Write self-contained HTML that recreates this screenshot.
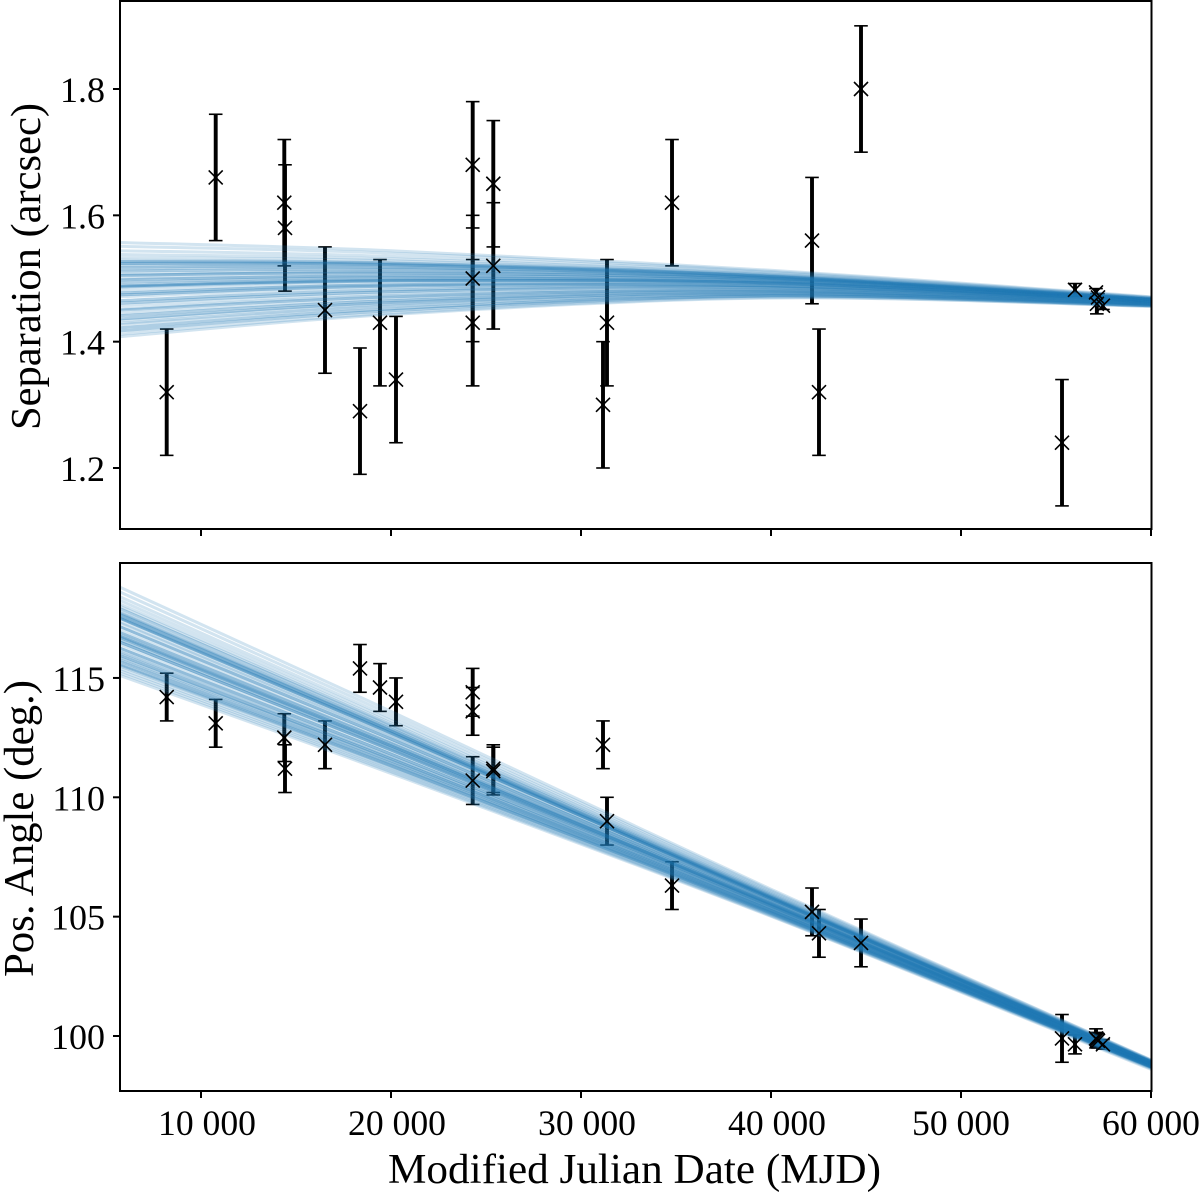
<!DOCTYPE html>
<html lang="en">
<head>
<meta charset="utf-8">
<title>Separation and position angle vs MJD</title>
<style>
html,body{margin:0;padding:0;background:#fff;}
svg{display:block;}
text{font-family:"Liberation Serif",serif;fill:#000;}
</style>
</head>
<body>
<svg id="chart" xmlns="http://www.w3.org/2000/svg" width="1200" height="1193" viewBox="0 0 1200 1193">
<defs>
<clipPath id="clip-top"><rect x="120" y="1" width="1031" height="528"/></clipPath>
<clipPath id="clip-bottom"><rect x="120" y="563" width="1031" height="528"/></clipPath>
</defs>
</svg>
<script>
// Observations
const mjd = [8195,10774,14384,14421,16526,18368,19421,20263,24300,24300,24300,25384,25384,31158,31368,34790,42158,42526,44737,55316,56000,57105,57150,57210,57470];
const sepVals = [1.32,1.66,1.62,1.58,1.45,1.29,1.43,1.34,1.68,1.50,1.43,1.65,1.52,1.30,1.43,1.62,1.56,1.32,1.80,1.24,1.482,1.478,1.46,1.470,1.457];
const sepErrs = [0.1,0.1,0.1,0.1,0.1,0.1,0.1,0.1,0.1,0.1,0.1,0.1,0.1,0.1,0.1,0.1,0.1,0.1,0.1,0.1,0.01,0.006,0.016,0.006,0.006];
const paVals = [114.2,113.1,112.5,111.2,112.2,115.4,114.6,114.0,114.4,113.6,110.7,111.2,111.1,112.2,109.0,106.3,105.2,104.3,103.9,99.9,99.65,99.9,99.85,99.8,99.65];
const paErrs = [1,1,1,1,1,1,1,1,1,1,1,1,1,1,1,1,1,1,1,1,0.4,0.4,0.3,0.3,0.2];

// Model curves sampled at these epochs
const modelMjd = [5737,20000,40000,60000];
const sepAt0 = [1.557,1.551,1.544,1.538,1.533,1.529,1.527,1.527,1.524,1.524,
1.524,1.521,1.518,1.518,1.515,1.512,1.512,1.508,1.505,1.505,
1.505,1.500,1.498,1.498,1.494,1.494,1.490,1.488,1.488,1.488,
1.486,1.486,1.481,1.477,1.477,1.474,1.474,1.471,1.465,1.465,
1.461,1.461,1.457,1.452,1.450,1.450,1.445,1.441,1.441,1.436,
1.436,1.433,1.429,1.427,1.422,1.422,1.417,1.417,1.412,1.408];
const sepAt1 = [1.544,1.540,1.535,1.531,1.528,1.525,1.524,1.524,1.522,1.522,
1.522,1.520,1.518,1.518,1.516,1.514,1.514,1.511,1.509,1.509,
1.509,1.505,1.504,1.504,1.501,1.501,1.499,1.497,1.497,1.497,
1.496,1.496,1.492,1.490,1.490,1.488,1.488,1.486,1.482,1.482,
1.479,1.479,1.476,1.473,1.471,1.471,1.468,1.465,1.465,1.462,
1.462,1.460,1.457,1.456,1.452,1.452,1.449,1.449,1.445,1.443];
const sepAt2 = [1.513,1.511,1.509,1.507,1.506,1.505,1.504,1.504,1.503,1.503,
1.503,1.502,1.501,1.501,1.501,1.500,1.500,1.499,1.498,1.498,
1.498,1.496,1.496,1.496,1.494,1.494,1.493,1.493,1.493,1.493,
1.492,1.492,1.491,1.489,1.489,1.488,1.488,1.488,1.486,1.486,
1.485,1.485,1.483,1.482,1.481,1.481,1.480,1.479,1.479,1.477,
1.477,1.476,1.475,1.475,1.473,1.473,1.472,1.472,1.470,1.469];
const sepAt3 = [1.471,1.470,1.470,1.469,1.469,1.468,1.468,1.468,1.467,1.467,
1.467,1.467,1.467,1.467,1.467,1.466,1.466,1.466,1.466,1.466,
1.466,1.465,1.465,1.465,1.465,1.465,1.464,1.464,1.464,1.464,
1.464,1.464,1.463,1.463,1.463,1.463,1.463,1.462,1.462,1.462,
1.461,1.461,1.461,1.461,1.460,1.460,1.460,1.459,1.459,1.459,
1.459,1.459,1.458,1.458,1.457,1.457,1.457,1.457,1.456,1.456];

const paAt0 = [118.8,118.6,118.4,118.25,118.1,118.0,117.9,117.9,117.75,117.75,
117.6,117.55,117.5,117.5,117.5,117.5,117.35,117.3,117.15,117.15,
117.15,117.0,116.9,116.9,116.75,116.75,116.75,116.7,116.7,116.5,
116.5,116.5,116.4,116.25,116.25,116.25,116.1,116.1,116.0,115.95,
115.95,115.85,115.85,115.75,115.7,115.7,115.6,115.55,115.55,115.5,
116.6,116.6,116.85,117.65,117.65,117.7,115.4,115.3,115.2,115.1];
const paAt1 = [113.60,113.46,113.32,113.21,113.11,113.04,112.97,112.97,112.86,112.86,
112.76,112.72,112.69,112.69,112.69,112.69,112.58,112.55,112.44,112.44,
112.44,112.34,112.27,112.27,112.16,112.16,112.16,112.12,112.12,111.98,
111.98,111.98,111.91,111.81,111.81,111.81,111.70,111.70,111.63,111.60,
111.60,111.53,111.53,111.46,111.42,111.42,111.35,111.32,111.32,111.28,
112.05,112.05,112.23,112.79,112.79,112.83,111.21,111.14,111.07,111.00];
const paAt2 = [106.15,106.09,106.03,105.98,105.94,105.91,105.87,105.87,105.83,105.83,
105.78,105.77,105.75,105.75,105.75,105.75,105.70,105.69,105.64,105.64,
105.64,105.60,105.56,105.56,105.52,105.52,105.52,105.50,105.50,105.44,
105.44,105.44,105.41,105.36,105.36,105.36,105.32,105.32,105.29,105.27,
105.27,105.24,105.24,105.21,105.19,105.19,105.16,105.15,105.15,105.13,
105.47,105.47,105.55,105.80,105.80,105.81,105.10,105.07,105.04,105.01];
const paAt3 = [99.00,98.99,98.97,98.96,98.95,98.94,98.93,98.93,98.92,98.92,
98.90,98.90,98.89,98.89,98.89,98.89,98.88,98.87,98.86,98.86,
98.86,98.84,98.83,98.83,98.82,98.82,98.82,98.81,98.81,98.79,
98.79,98.79,98.78,98.77,98.77,98.77,98.75,98.75,98.74,98.74,
98.74,98.73,98.73,98.72,98.71,98.71,98.70,98.70,98.70,98.69,
98.80,98.80,98.83,98.91,98.91,98.91,98.68,98.66,98.64,98.60];

// Axis ticks
const xTicks = [10000,20000,30000,40000,50000,60000];
const xTickLabels = ["10 000","20 000","30 000","40 000","50 000","60 000"];
const sepTicks = [1.2,1.4,1.6,1.8];
const sepTickLabels = ["1.2","1.4","1.6","1.8"];
const paTicks = [100,105,110,115];
const paTickLabels = ["100","105","110","115"];

const SVGNS = "http://www.w3.org/2000/svg";
const root = document.getElementById("chart");
const xScale = function (m) { return 201 + (m - 10000) * 0.019; };
const ySep = function (v) { return 468 - (v - 1.2) * 631.67; };
const yPa = function (v) { return 1036 - (v - 100) * 23.87; };

function mk(parent, tag) {
  const el = document.createElementNS(SVGNS, tag);
  parent.appendChild(el);
  return el;
}
function seg(parent, x1, y1, x2, y2, w, color) {
  const l = mk(parent, "line");
  l.setAttribute("x1", x1);
  l.setAttribute("y1", y1);
  l.setAttribute("x2", x2);
  l.setAttribute("y2", y2);
  l.setAttribute("stroke", color || "#000");
  l.setAttribute("stroke-width", w);
  return l;
}
function curvePath(px) {
  let d = "M" + px[0][0] + " " + px[0][1];
  for (let i = 0; i < px.length - 1; i++) {
    const p0 = px[Math.max(i - 1, 0)], p1 = px[i], p2 = px[i + 1], p3 = px[Math.min(i + 2, px.length - 1)];
    d += " C" + (p1[0] + (p2[0] - p0[0]) / 6) + " " + (p1[1] + (p2[1] - p0[1]) / 6) + " " +
         (p2[0] - (p3[0] - p1[0]) / 6) + " " + (p2[1] - (p3[1] - p1[1]) / 6) + " " + p2[0] + " " + p2[1];
  }
  return d;
}

function drawPanel(cfg) {
  const g = mk(root, "g");
  
  

  // error bars beneath the model curves
  const barsG = mk(g, "g");
  
  
  mjd.forEach(function (m, i) {
    const x = xScale(m);
    const yHi = cfg.y(cfg.vals[i] + cfg.errs[i]);
    const yLo = cfg.y(cfg.vals[i] - cfg.errs[i]);
    const bar = seg(barsG, x, yHi, x, yLo, 3.9);
    
    
    const capT = seg(barsG, x - 6.8, yHi, x + 6.8, yHi, 1.6);
    
    
    const capB = seg(barsG, x - 6.8, yLo, x + 6.8, yLo, 1.6);
    
    
  });

  // model curves
  const curvesG = mk(g, "g");
  
  
  curvesG.setAttribute("clip-path", "url(#" + cfg.clip + ")");
  cfg.nodes[0].forEach(function (_, k) {
    const px = modelMjd.map(function (m, n) { return [xScale(m), cfg.y(cfg.nodes[n][k])]; });
    const p = mk(curvesG, "path");
    
    
    p.setAttribute("d", curvePath(px));
    p.setAttribute("fill", "none");
    p.setAttribute("stroke", "#1f77b4");
    p.setAttribute("stroke-width", "3");
    p.setAttribute("stroke-opacity", "0.2");
  });

  // x markers
  const marksG = mk(g, "g");
  
  
  mjd.forEach(function (m, i) {
    const x = xScale(m), y = cfg.y(cfg.vals[i]), r = 7;
    const p = mk(marksG, "path");
    
    
    p.setAttribute("d", "M" + (x - r) + " " + (y - r) + "L" + (x + r) + " " + (y + r) + "M" + (x - r) + " " + (y + r) + "L" + (x + r) + " " + (y - r));
    p.setAttribute("fill", "none");
    p.setAttribute("stroke", "#000");
    p.setAttribute("stroke-width", "1.6");
  });

  // y ticks and labels
  cfg.ticks.forEach(function (t, i) {
    const y = cfg.y(t);
    const tick = seg(g, 113, y, 120, y, 2);
    
    
    const lab = mk(g, "text");
    
    
    lab.setAttribute("x", 105);
    lab.setAttribute("y", y + 13);
    lab.setAttribute("text-anchor", "end");
    lab.setAttribute("font-size", "36");
    lab.textContent = cfg.tickLabels[i];
  });

  // x ticks
  xTicks.forEach(function (t, i) {
    const x = xScale(t);
    const tick = seg(g, x, cfg.bottom, x, cfg.bottom + 7, 2);
    
    
    if (cfg.showXLabels) {
      const lab = mk(g, "text");
      
      
      lab.setAttribute("x", x + (t < 45000 ? 6 : 0));
      lab.setAttribute("y", 1135);
      lab.setAttribute("text-anchor", "middle");
      lab.setAttribute("font-size", "36");
      lab.setAttribute("textLength", "98");
      lab.setAttribute("lengthAdjust", "spacingAndGlyphs");
      lab.textContent = xTickLabels[i];
    }
  });

  // frame
  const frame = mk(g, "rect");
  
  
  frame.setAttribute("x", 120);
  frame.setAttribute("y", cfg.top);
  frame.setAttribute("width", 1031.5);
  frame.setAttribute("height", cfg.bottom - cfg.top);
  frame.setAttribute("fill", "none");
  frame.setAttribute("stroke", "#000");
  frame.setAttribute("stroke-width", "2");

  // y title
  const title = mk(g, "text");
  
  
  title.setAttribute("transform", "translate(" + cfg.titleX + " " + cfg.titleY + ") rotate(-90)");
  title.setAttribute("font-size", "42");
  title.setAttribute("textLength", cfg.titleLen);
  title.setAttribute("lengthAdjust", "spacingAndGlyphs");
  title.textContent = cfg.title;
}

drawPanel({
  name: "separation", y: ySep, vals: sepVals, errs: sepErrs,
  nodes: [sepAt0, sepAt1, sepAt2, sepAt3], clip: "clip-top",
  ticks: sepTicks, tickLabels: sepTickLabels, top: 1, bottom: 529, showXLabels: false,
  title: "Separation (arcsec)", titleX: 40, titleY: 430, titleLen: 327
});
drawPanel({
  name: "position-angle", y: yPa, vals: paVals, errs: paErrs,
  nodes: [paAt0, paAt1, paAt2, paAt3], clip: "clip-bottom",
  ticks: paTicks, tickLabels: paTickLabels, top: 563, bottom: 1091, showXLabels: true,
  title: "Pos. Angle (deg.)", titleX: 33, titleY: 977, titleLen: 297
});

const xTitle = mk(root, "text");


xTitle.setAttribute("x", 388);
xTitle.setAttribute("y", 1183);
xTitle.setAttribute("font-size", "42");
xTitle.setAttribute("textLength", "493");
xTitle.setAttribute("lengthAdjust", "spacingAndGlyphs");
xTitle.textContent = "Modified Julian Date (MJD)";
</script>
</body>
</html>
